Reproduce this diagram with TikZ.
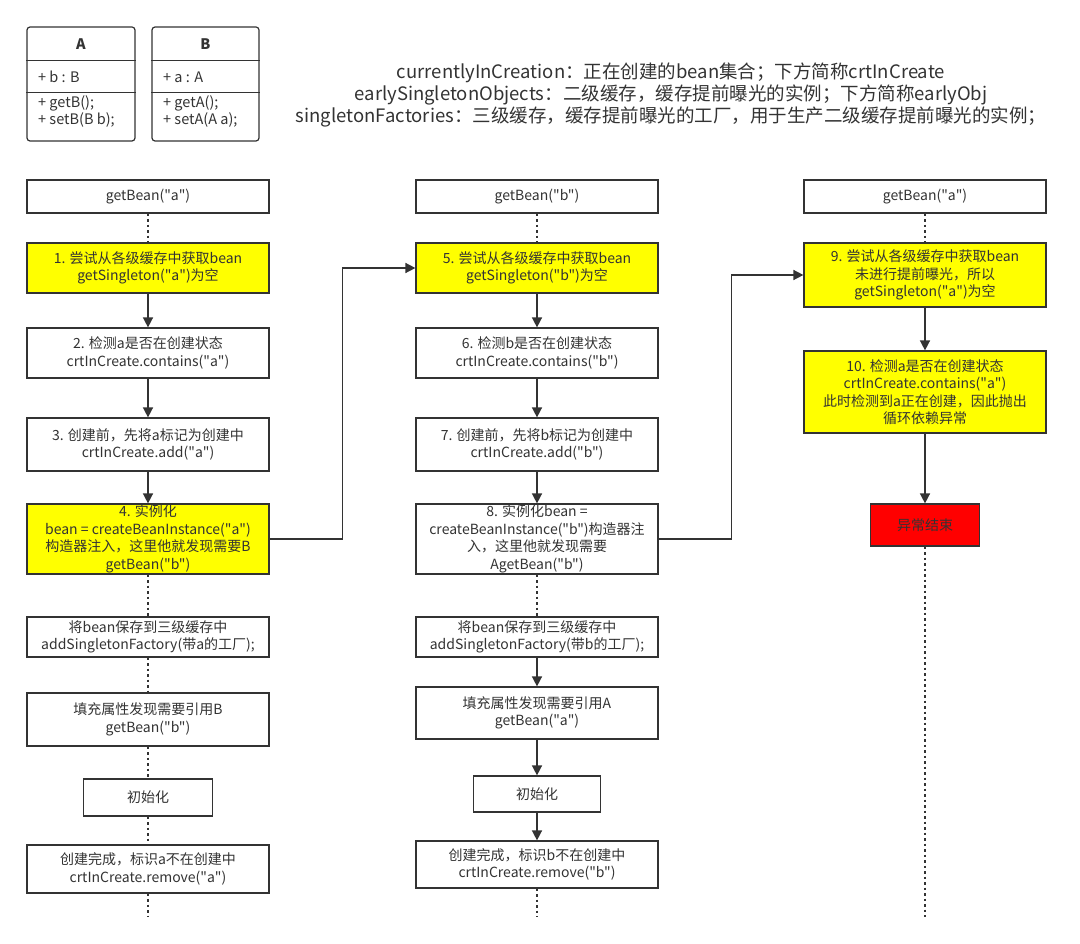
\documentclass[tikz,border=0pt]{standalone}
\usepackage{fontspec}
\newfontfamily\cjkfont{Noto Sans CJK SC}
\usetikzlibrary{arrows.meta,positioning}
\definecolor{ink}{HTML}{333333}
\definecolor{hotfill}{HTML}{FFFF00}
\definecolor{failfill}{HTML}{FF0000}

\begin{document}
\begin{tikzpicture}[
        x=1pt, y=-1pt, % ось y вниз, как на картинке
        font=\cjkfont\fontsize{14}{17.5}\selectfont, text=ink,
        cell/.style={draw=ink, line width=1.2pt, fill=white, minimum width=242pt, inner sep=0pt, align=center}, % обычный шаг
        hot/.style={cell, fill=hotfill}, % важный шаг
        fail/.style={cell, fill=failfill, minimum width=109pt, minimum height=42pt},
        link/.style={draw=ink, line width=1.5pt, -{Triangle[length=10pt, width=10pt]}},
        dots/.style={draw=ink, line width=1.5pt, dash pattern=on 2.5pt off 3pt},
        klass/.style={draw=ink, line width=1.2pt, rounded corners=3pt, minimum width=108pt, minimum height=114pt},
        member/.style={anchor=west, align=left, inner sep=0pt, font=\cjkfont\fontsize{14.5}{17}\selectfont},
    ]
    \useasboundingbox[fill=white] (0,0) rectangle (1080,944);

    % классы A и B
    \node[klass] (clsA) at (81,84) {};
    \node[font=\cjkfont\bfseries\fontsize{14.5}{16}\selectfont] (nameA) at (81,44) {A};
    \draw[draw=ink, line width=1.2pt] ([yshift=-34pt]clsA.north west) -- ([yshift=-34pt]clsA.north east);
    \draw[draw=ink, line width=1.2pt] ([yshift=-66pt]clsA.north west) -- ([yshift=-66pt]clsA.north east);
    \node[member] (fieldA) at (38,77) {+ b : B};
    \node[member] (methA) at (38,111.5) {+ getB();\\+ setB(B b);};

    \node[klass, minimum width=107pt] (clsB) at (205.5,84) {};
    \node[font=\cjkfont\bfseries\fontsize{14.5}{16}\selectfont] (nameB) at (205.5,44) {B};
    \draw[draw=ink, line width=1.2pt] ([yshift=-34pt]clsB.north west) -- ([yshift=-34pt]clsB.north east);
    \draw[draw=ink, line width=1.2pt] ([yshift=-66pt]clsB.north west) -- ([yshift=-66pt]clsB.north east);
    \node[member] (fieldB) at (163,77) {+ a : A};
    \node[member] (methB) at (163,111.5) {+ getA();\\+ setA(A a);};

    % пояснения
    \node[font=\cjkfont\fontsize{18.5}{22}\selectfont, align=center, inner sep=0pt] (legend) at (671,95)
        {currentlyInCreation：正在创建的bean集合；下方简称crtInCreate\\
         earlySingletonObjects：二级缓存，缓存提前曝光的实例；下方简称earlyObj\\
         singletonFactories：三级缓存，缓存提前曝光的工厂，用于生产二级缓存提前曝光的实例；};

    % getBean("a")
    \node[cell, minimum height=33pt] (getA) at (148,196.5) {getBean("a")};
    \node[hot, minimum height=50pt] (tryA) at (148,268) {1. 尝试从各级缓存中获取bean\\getSingleton("a")为空};
    \node[cell, minimum height=50pt] (checkA) at (148,353) {2. 检测a是否在创建状态\\crtInCreate.contains("a")};
    \node[cell, minimum height=53pt] (markA) at (148,444.5) {3. 创建前，先将a标记为创建中\\crtInCreate.add("a")};
    \node[hot, minimum height=70pt] (newA) at (148,539) {4. 实例化\\bean = createBeanInstance("a")\\构造器注入，这里他就发现需要B\\getBean("b")};
    \node[cell, minimum height=40pt] (saveA) at (148,637) {将bean保存到三级缓存中\\addSingletonFactory(带a的工厂);};
    \node[cell, minimum height=53pt] (fillA) at (148,719.5) {填充属性发现需要引用B\\getBean("b")};
    \node[cell, minimum width=129pt, minimum height=37pt] (initA) at (148,797.5) {初始化};
    \node[cell, minimum height=48pt] (doneA) at (148,869) {创建完成，标识a不在创建中\\crtInCreate.remove("a")};
    \coordinate (endA) at (148,917);

    % getBean("b")
    \node[cell, minimum height=33pt] (getB) at (537,196.5) {getBean("b")};
    \node[hot, minimum height=50pt] (tryB) at (537,268) {5. 尝试从各级缓存中获取bean\\getSingleton("b")为空};
    \node[cell, minimum height=50pt] (checkB) at (537,353) {6. 检测b是否在创建状态\\crtInCreate.contains("b")};
    \node[cell, minimum height=53pt] (markB) at (537,444.5) {7. 创建前，先将b标记为创建中\\crtInCreate.add("b")};
    \node[cell, minimum height=70pt] (newB) at (537,539) {8. 实例化bean =\\createBeanInstance("b")构造器注\\入，这里他就发现需要\\AgetBean("b")};
    \node[cell, minimum height=40pt] (saveB) at (537,637) {将bean保存到三级缓存中\\addSingletonFactory(带b的工厂);};
    \node[cell, minimum height=52pt] (fillB) at (537,713) {填充属性发现需要引用A\\getBean("a")};
    \node[cell, minimum width=127pt, minimum height=36pt] (initB) at (537,794) {初始化};
    \node[cell, minimum height=47pt] (doneB) at (537,864.5) {创建完成，标识b不在创建中\\crtInCreate.remove("b")};
    \coordinate (endB) at (537,917);

    % снова getBean("a")
    \node[cell, minimum height=33pt] (getC) at (925,196.5) {getBean("a")};
    \node[hot, minimum height=64pt] (tryC) at (925,275) {9. 尝试从各级缓存中获取bean\\未进行提前曝光，所以\\getSingleton("a")为空};
    \node[hot, minimum height=82pt] (checkC) at (925,392) {10. 检测a是否在创建状态\\crtInCreate.contains("a")\\此时检测到a正在创建，因此抛出\\循环依赖异常};
    \node[fail] (failC) at (925,525) {异常结束};
    \coordinate (endC) at (925,917);

    % связи
    \draw[dots] (getA) -- (tryA);
    \draw[link] (tryA) -- (checkA);
    \draw[link] (checkA) -- (markA);
    \draw[link] (markA) -- (newA);
    \draw[dots] (newA) -- (saveA);
    \draw[dots] (saveA) -- (fillA);
    \draw[dots] (fillA) -- (initA);
    \draw[dots] (initA) -- (doneA);
    \draw[dots] (doneA) -- (endA);
    \draw[link] (newA.east) -- ++(73,0) |- (tryB.west);

    \draw[dots] (getB) -- (tryB);
    \draw[link] (tryB) -- (checkB);
    \draw[link] (checkB) -- (markB);
    \draw[link] (markB) -- (newB);
    \draw[dots] (newB) -- (saveB);
    \draw[link] (saveB) -- (fillB);
    \draw[link] (fillB) -- (initB);
    \draw[link] (initB) -- (doneB);
    \draw[dots] (doneB) -- (endB);
    \draw[link] (newB.east) -- ++(73,0) |- (tryC.west);

    \draw[dots] (getC) -- (tryC);
    \draw[link] (tryC) -- (checkC);
    \draw[link] (checkC) -- (failC);
    \draw[dots] (failC) -- (endC);
\end{tikzpicture}
\end{document}
